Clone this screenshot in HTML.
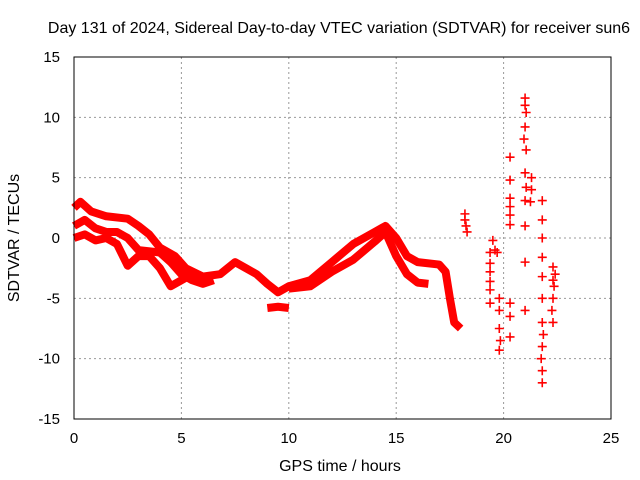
<!DOCTYPE html>
<html><head><meta charset="utf-8"><style>
body{margin:0;background:#fff}
svg{display:block;font-family:"Liberation Sans",sans-serif}
</style></head><body>
<svg id="chart" width="640" height="480">
<text x="339" y="33" font-size="16" text-anchor="middle">Day 131 of 2024, Sidereal Day-to-day VTEC variation (SDTVAR) for receiver sun6</text>
<text x="340" y="471" font-size="16" text-anchor="middle">GPS time / hours</text>
<text transform="translate(19,238) rotate(-90)" font-size="16" text-anchor="middle">SDTVAR / TECUs</text>
<g id="grid"></g><g id="marks"></g>
<rect x="74" y="57" width="537" height="362" fill="none" stroke="#000" stroke-width="1"/>
</svg>
<script>
const xTicks=[0,5,10,15,20,25];
const yTicks=[-15,-10,-5,0,5,10,15];
// dense tracks: time (h) and SDTVAR (TECU)
const trackA_t=[0,0.3,0.8,1.5,2.5,3,3.5,4,4.7,5.2,6,6.8,7.5,8,8.5,9,9.5,10,11,12,13,14,14.5,15,15.5,16,17,17.3,17.5,17.7,18];
const trackA_v=[2.5,3,2.2,1.8,1.6,1,0.3,-0.8,-1.5,-2.5,-3.2,-3,-2,-2.5,-3,-3.8,-4.5,-4,-3.5,-2,-0.5,0.5,1,0,-1.5,-2,-2.2,-2.8,-5,-7,-7.5];
const trackB_t=[0,0.5,1,1.5,2,2.5,3,4,4.5,5,5.5,6,6.5];
const trackB_v=[1,1.5,0.8,0.5,0.5,0,-1,-1.2,-2,-3,-3.5,-3.8,-3.5];
const trackC_t=[0,0.5,1,1.5,2,2.5,3,3.5,4,4.5,5,5.5,6];
const trackC_v=[0,0.3,-0.2,0,-0.5,-2.3,-1.5,-1.5,-2.5,-4,-3.5,-3,-3.2];
const trackD_t=[9,9.5,10];
const trackD_v=[-5.8,-5.7,-5.8];
const trackE_t=[10,11,12,13,14,14.5,15,15.5,16,16.5];
const trackE_v=[-4.2,-4,-2.8,-1.8,-0.3,0.5,-1.5,-3,-3.7,-3.8];
// sparse points
const ptsT=[18.2,18.2,18.25,18.3,19.37,19.37,19.37,19.37,19.37,19.37,19.6,19.7,19.5,19.8,19.8,19.8,19.85,19.8,20.3,20.3,20.3,20.3,20.3,20.3,20.3,20.3,20.3,21.0,21.0,21.05,21.0,20.95,21.05,21.0,21.05,21.0,21.0,21.0,21.0,21.3,21.3,21.25,21.8,21.8,21.8,21.8,21.8,21.8,21.8,21.8,21.8,21.8,21.75,21.85,22.3,22.3,22.3,22.3,22.35,22.4,22.25];
const ptsV=[2,1.5,1,0.5,-1.2,-2.1,-2.8,-3.6,-4.3,-5.4,-1,-1.2,-0.2,-5,-6,-7.5,-8.5,-9.3,6.7,4.8,3.3,2.6,1.9,1.1,-5.4,-6.5,-8.2,11.6,11,10.4,9.2,8.2,7.3,5.4,4.2,3.1,1,-2,-6,5,4,3,3.1,1.5,0,-1.6,-3.2,-5,-7,-9,-11,-12,-10,-8,-2.4,-3.5,-5,-7,-4,-3,-6];
const X=t=>74+t*537/25, Y=v=>238-v*362/30;
const NS='http://www.w3.org/2000/svg';
const grid=document.getElementById('grid'), marks=document.getElementById('marks'), svg=document.getElementById('chart');
xTicks.forEach(t=>{
  if(t>0&&t<25){const l=document.createElementNS(NS,'line');
  l.setAttribute('x1',X(t));l.setAttribute('x2',X(t));l.setAttribute('y1',57);l.setAttribute('y2',419);
  l.setAttribute('stroke','#999');l.setAttribute('stroke-dasharray','2,3');
  
  
  grid.appendChild(l);}
  const tx=document.createElementNS(NS,'text');
  tx.setAttribute('x',X(t));tx.setAttribute('y',443);tx.setAttribute('font-size','15');tx.setAttribute('text-anchor','middle');
  tx.textContent=t;
  
  
  svg.appendChild(tx);
});
yTicks.forEach(v=>{
  if(v>-15&&v<15){const l=document.createElementNS(NS,'line');
  l.setAttribute('x1',74);l.setAttribute('x2',611);l.setAttribute('y1',Y(v));l.setAttribute('y2',Y(v));
  l.setAttribute('stroke','#999');l.setAttribute('stroke-dasharray','2,3');
  
  
  grid.appendChild(l);}
  const tx=document.createElementNS(NS,'text');
  tx.setAttribute('x',60);tx.setAttribute('y',Y(v)+5);tx.setAttribute('font-size','15');tx.setAttribute('text-anchor','end');
  tx.textContent=v;
  
  
  svg.appendChild(tx);
});
[[trackA_t,trackA_v],[trackB_t,trackB_v],[trackC_t,trackC_v],[trackD_t,trackD_v],[trackE_t,trackE_v]].forEach(([ts,vs])=>{
  const p=document.createElementNS(NS,'polyline');
  p.setAttribute('points',ts.map((t,i)=>X(t)+','+Y(vs[i])).join(' '));
  p.setAttribute('fill','none');p.setAttribute('stroke','#f00');p.setAttribute('stroke-width','8');p.setAttribute('stroke-linejoin','round');
  
  
  marks.appendChild(p);
});
ptsT.forEach((t,i)=>{
  const x=X(t),y=Y(ptsV[i]);
  const p=document.createElementNS(NS,'path');
  p.setAttribute('d',`M${x-4.5},${y}H${x+4.5}M${x},${y-4.5}V${y+4.5}`);
  p.setAttribute('stroke','#f00');p.setAttribute('stroke-width','1.6');
  
  
  marks.appendChild(p);
});
</script>
</body></html>
